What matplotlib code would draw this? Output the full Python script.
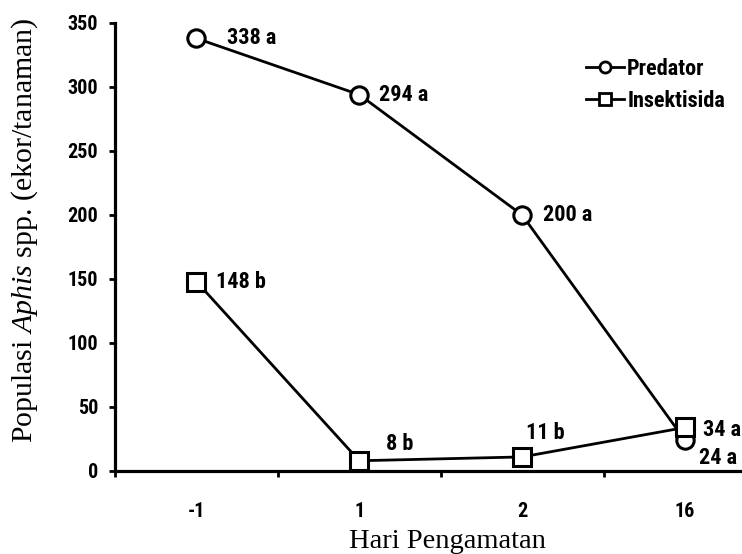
import matplotlib.pyplot as plt
import matplotlib.font_manager as fm
from matplotlib.lines import Line2D

days = ['-1', '1', '2', '16']
predator = [338, 294, 200, 24]
insektisida = [148, 8, 11, 34]
predator_labels = ['338 a', '294 a', '200 a', '24 a']
insektisida_labels = ['148 b', '8 b', '11 b', '34 a']
yticks = [0, 50, 100, 150, 200, 250, 300, 350]


def is_bold(w):
    if isinstance(w, str):
        return 'bold' in w.lower() or w.lower() in ('heavy', 'black')
    return w >= 600


def is_narrow(f):
    if 'Narrow' in f.name or 'Condensed' in f.name:
        return True
    st = f.stretch
    if isinstance(st, str):
        return 'condensed' in st
    return st < 500


def pick_narrow_bold():
    # look for a condensed bold face, the reference uses Arial Narrow bold
    order = ['Liberation Sans Narrow', 'Roboto Condensed', 'DejaVu Sans Condensed',
             'Noto Sans', 'Open Sans', 'Roboto']
    found = [f for f in fm.fontManager.ttflist if is_narrow(f) and is_bold(f.weight)]
    for name in order:
        for f in found:
            if f.name.startswith(name):
                return f.fname
    if found:
        return found[0].fname
    return None


narrow_path = pick_narrow_bold()


def nfont(size):
    if narrow_path:
        return fm.FontProperties(fname=narrow_path, size=size)
    return fm.FontProperties(family='Liberation Sans', weight='bold', size=size * 0.85)


plt.rcParams['mathtext.fontset'] = 'custom'
plt.rcParams['mathtext.rm'] = 'Liberation Serif'
plt.rcParams['mathtext.it'] = 'Liberation Serif:italic'

fig = plt.figure(figsize=(7.42, 5.54), dpi=100)
ax = fig.add_axes([115 / 742, 83 / 554, 627 / 742, 448 / 554])

x = list(range(len(days)))
ax.plot(x, predator, color='black', lw=2, marker='o', ms=12.5, mew=2.2,
        mfc='white', mec='black', zorder=3, label='Predator')
ax.plot(x, insektisida, color='black', lw=2, marker='s', ms=12.5, mew=2.2,
        mfc='white', mec='black', zorder=4, label='Insektisida')

# label offsets in points (dx, dy)
pred_off = [(22, 0), (14, 0), (15, 0), (10, -13)]
ins_off = [(14, 0), (19, 12), (3, 17), (13, -2)]
for i in x:
    ax.annotate(predator_labels[i], (x[i], predator[i]), xytext=pred_off[i],
                textcoords='offset points', ha='left', va='center',
                fontproperties=nfont(16))
    ax.annotate(insektisida_labels[i], (x[i], insektisida[i]), xytext=ins_off[i],
                textcoords='offset points', ha='left', va='center',
                fontproperties=nfont(16))

ax.set_xlim(-0.5, 3.35)
ax.set_ylim(0, 350)
ax.set_yticks(yticks)
ax.set_xticks(x)
ax.set_xticklabels(days)
ax.set_xticks([-0.5, 0.5, 1.5, 2.5], minor=True)

for s in ['top', 'right']:
    ax.spines[s].set_visible(False)
for s in ['left', 'bottom']:
    ax.spines[s].set_linewidth(2.3)

ax.tick_params(axis='y', direction='out', length=4, width=2, pad=8)
ax.tick_params(axis='x', which='major', length=0, pad=22)
ax.tick_params(axis='x', which='minor', direction='out', length=4, width=2)
for lab in ax.get_xticklabels() + ax.get_yticklabels():
    lab.set_fontproperties(nfont(14.5))

handles = [
    Line2D([], [], color='black', lw=2, marker='o', ms=8, mew=2, mfc='white'),
    Line2D([], [], color='black', lw=2, marker='s', ms=8, mew=2, mfc='white'),
]
fig.legend(handles, ['Predator', 'Insektisida'], loc='upper left',
           bbox_to_anchor=(575 / 742, 1 - 47 / 554), frameon=False,
           borderpad=0, handlelength=1.7, handletextpad=0.15, labelspacing=0.45,
           prop=nfont(16))

fig.text(447 / 742, 1 - 548 / 554, 'Hari Pengamatan', family='Liberation Serif',
         fontsize=20.5, ha='center', va='baseline')
fig.text(25 / 742, 1 - 230 / 554, 'Populasi $\\mathit{Aphis}$ spp. (ekor/tanaman)',
         family='Liberation Serif', fontsize=21.5, rotation=90,
         ha='center', va='center')

fig.savefig('out.png', dpi=100)
